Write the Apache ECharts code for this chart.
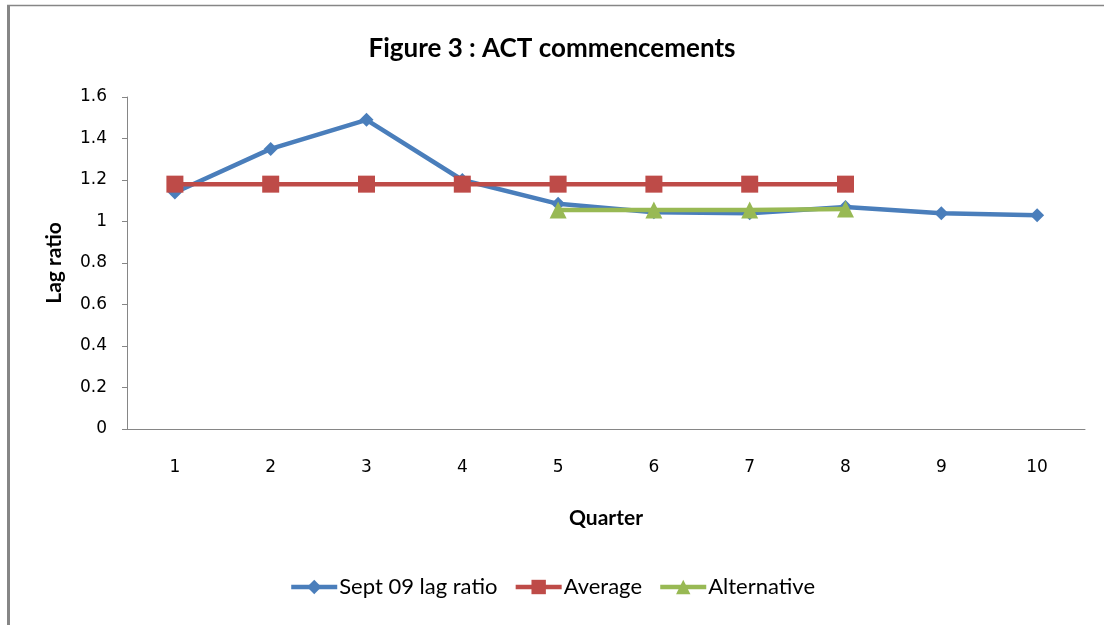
<!DOCTYPE html>
<html>
<head>
<meta charset="utf-8">
<script src="https://cdn.jsdelivr.net/npm/echarts@6/dist/echarts.min.js"></script>
<style>html,body{margin:0;padding:0;background:#fff;}#c{width:1104px;height:625px;}</style>
</head>
<body>
<div id="c"></div>
<script>
var categories = ['1','2','3','4','5','6','7','8','9','10'];
var sept09 = [1.14, 1.35, 1.49, 1.2, 1.085, 1.045, 1.04, 1.07, 1.04, 1.03];
var average = [1.18, 1.18, 1.18, 1.18, 1.18, 1.18, 1.18, 1.18, null, null];
var alternative = [null, null, null, null, 1.055, 1.055, 1.055, 1.06, null, null];
var seriesNames = ['Sept 09 lag ratio', 'Average', 'Alternative'];

var tickFont = "'Liberation Sans Narrow','DejaVu Sans',sans-serif";
var mainFont = "Lato,'Open Sans',sans-serif";

var chart = echarts.init(document.getElementById('c'));
chart.setOption({
  animation: false,
  backgroundColor: '#fff',
  title: {
    text: 'Figure 3 : ACT commencements',
    left: 'center', top: 31,
    textStyle: {fontFamily: mainFont, fontSize: 26, fontWeight: 'bold', color: '#000'}
  },
  legend: {
    data: seriesNames,
    bottom: 22, left: 'center',
    itemWidth: 46, itemHeight: 18, itemGap: 16,
    lineStyle: {width: 4.5},
    textStyle: {fontFamily: mainFont, fontSize: 22, color: '#000', padding: [0,0,0,-3]}
  },
  grid: {left: 127, right: 19, top: 97, bottom: 196},
  xAxis: {
    type: 'category', data: categories, boundaryGap: true,
    name: 'Quarter', nameLocation: 'middle', nameGap: 79,
    nameTextStyle: {fontFamily: mainFont, fontSize: 21, fontWeight: 'bold', color: '#000'},
    axisLine: {lineStyle: {color: '#868686', width: 1}},
    axisTick: {show: false},
    axisLabel: {margin: 30, fontFamily: tickFont, fontSize: 17, color: '#000'}
  },
  yAxis: {
    type: 'value', min: 0, max: 1.6, interval: 0.2,
    name: 'Lag ratio', nameLocation: 'middle', nameGap: 62,
    nameTextStyle: {fontFamily: mainFont, fontSize: 21, fontWeight: 'bold', color: '#000'},
    axisLine: {show: true, lineStyle: {color: '#868686', width: 1}},
    axisTick: {show: true, length: 5, lineStyle: {color: '#868686'}},
    splitLine: {show: false},
    axisLabel: {margin: 20, fontFamily: tickFont, fontSize: 17, color: '#000',
      formatter: function(v){ return String(Math.round(v*10)/10); }}
  },
  series: [
    {name: seriesNames[0], type: 'line', data: sept09, symbol: 'diamond', symbolSize: 14,
     lineStyle: {color: '#4A7EBB', width: 4.5}, itemStyle: {color: '#4A7EBB'}, z: 2},
    {name: seriesNames[1], type: 'line', data: average, symbol: 'rect', symbolSize: 17,
     lineStyle: {color: '#BE4B48', width: 4.5}, itemStyle: {color: '#BE4B48'}, z: 3},
    {name: seriesNames[2], type: 'line', data: alternative, symbol: 'triangle', symbolSize: 17,
     lineStyle: {color: '#98B954', width: 4.5}, itemStyle: {color: '#98B954'}, z: 4}
  ],
  graphic: [
    {type: 'line', shape: {x1: 7, y1: 5.5, x2: 1104, y2: 5.5}, style: {stroke: '#868686', lineWidth: 1.5}, silent: true},
    {type: 'line', shape: {x1: 8.5, y1: 5, x2: 8.5, y2: 625}, style: {stroke: '#868686', lineWidth: 3}, silent: true}
  ]
});
</script>
</body>
</html>
